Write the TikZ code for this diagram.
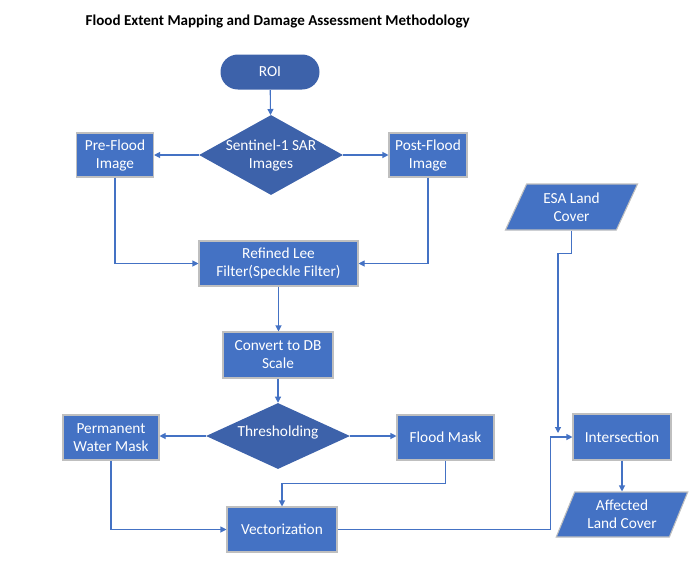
\documentclass[tikz,border=0pt]{standalone}
\usepackage{fontspec}
\setmainfont{Carlito}
\usetikzlibrary{arrows.meta,shapes.geometric}
\definecolor{boxblue}{HTML}{4472C4}
\definecolor{darkblue}{HTML}{3D62AA}
\definecolor{boxedge}{HTML}{BFBFBF}
\tikzset{
  flow/.style={-{Triangle[length=4.5pt,width=4.5pt]}, boxblue, line width=0.8pt},
  proc/.style={rectangle, draw=boxedge, line width=0.8pt, fill=boxblue, text=white, align=center, inner sep=1pt, font=\fontsize{11.5}{13.5}\selectfont},
  term/.style={proc, draw=none, fill=darkblue, rounded corners=13pt},
  decide/.style={diamond, draw=none, fill=darkblue, inner sep=0pt},
  decidetext/.style={text=white, align=center, inner sep=0pt, font=\fontsize{11.5}{13.5}\selectfont},
  data/.style={proc, trapezium, trapezium left angle=66, trapezium right angle=114, trapezium stretches=true}
}
\begin{document}
\begin{tikzpicture}[x=0.75pt,y=-0.75pt]
  \useasboundingbox (0,0) rectangle (699,575);
  \node[anchor=west,font=\bfseries\fontsize{11.3}{13}\selectfont] (title) at (81,21) {Flood Extent Mapping and Damage Assessment Methodology};
  % top half
  \node[term,minimum width=74.25pt,minimum height=26.25pt] (roi) at (270,72) {ROI};
  \node[decide,minimum width=108pt,minimum height=60pt,
    label={[decidetext]center:Sentinel-1 SAR\\Images}] (sar) at (271,155) {};
  \node[proc,minimum width=57.75pt,minimum height=33pt] (pre) at (115,155) {Pre-Flood\\Image};
  \node[proc,minimum width=58.5pt,minimum height=33pt] (post) at (428,155) {Post-Flood\\Image};
  \node[proc,minimum width=119.25pt,minimum height=33.75pt] (lee) at (278.5,263.5) {Refined Lee\\Filter(Speckle Filter)};
  \node[proc,minimum width=82.5pt,minimum height=34.5pt] (conv) at (278,355) {Convert to DB\\Scale};
  % lower half
  \node[decide,minimum width=108pt,minimum height=49.5pt,
    label={[decidetext,yshift=3pt]center:Thresholding}] (thr) at (278,436) {};
  \node[proc,minimum width=72pt,minimum height=33.75pt] (perm) at (111,437.5) {Permanent\\Water Mask};
  \node[proc,minimum width=72.75pt,minimum height=33.75pt] (flood) at (445.5,437.5) {Flood Mask};
  \node[proc,minimum width=82.5pt,minimum height=33.75pt] (vec) at (282,529.5) {Vectorization};
  % right column
  \node[data,minimum width=99.75pt,minimum height=34.5pt] (esa) at (571.5,207) {ESA Land\\Cover};
  \node[proc,minimum width=73.5pt,minimum height=34.5pt] (inter) at (622,437) {Intersection};
  \node[data,minimum width=99pt,minimum height=33.75pt] (aff) at (622,514.5) {Affected\\Land Cover};
  \coordinate (meet) at (558,433);
  % connectors
  \draw[flow] (roi) -- (sar);
  \draw[flow] (sar.west) -- (pre.east);
  \draw[flow] (sar.east) -- (post.west);
  \draw[flow] (pre.south) |- (lee.west);
  \draw[flow] (post.south) |- (lee.east);
  \draw[flow] (lee.south) -- (lee.south |- conv.north);
  \draw[flow] (conv.south) -- (conv.south |- thr.north);
  \draw[flow] (thr.west) -- (perm.east |- thr.west);
  \draw[flow] (thr.east) -- (flood.west |- thr.east);
  \draw[flow] (perm.south) |- (vec.west);
  \draw[flow] (flood.south) -- ++(0,23) -| (vec.north);
  \draw[flow] (vec.east) -- ++(213,0) |- (inter.west);
  \draw[flow] (esa.south) -- ++(0,23) -| (meet);
  \draw[flow] (inter.south) -- (inter.south |- aff.north);
\end{tikzpicture}
\end{document}
